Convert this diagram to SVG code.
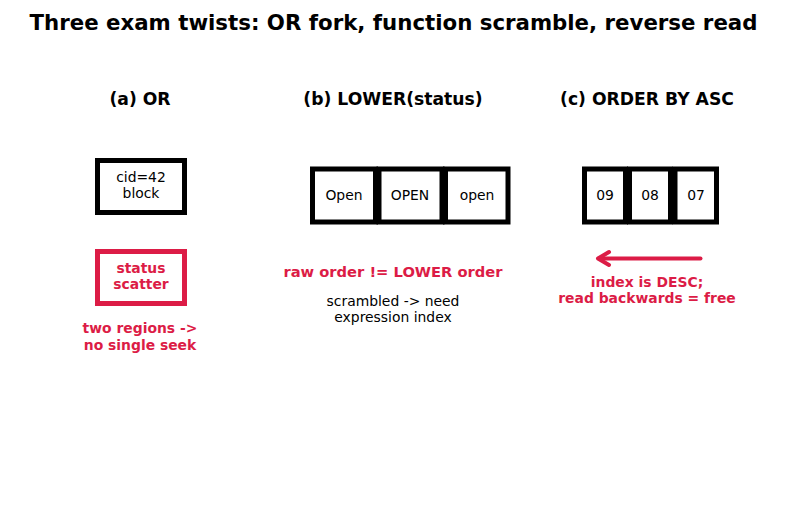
<svg xmlns="http://www.w3.org/2000/svg" width="787" height="508" viewBox="0 0 787 508">
<style>
text{font-family:"DejaVu Sans","Liberation Sans",sans-serif;text-anchor:middle}
.t{font-size:21.3px;font-weight:bold}
.h{font-size:17.2px;font-weight:bold}
.n{font-size:13.9px;fill:#000}
.r{font-size:13.9px;font-weight:bold;fill:#dc1c46}
.box{fill:#fff;stroke:#000;stroke-width:5}
.rbox{fill:#fff;stroke:#dc1c46;stroke-width:5}
</style>
<rect width="787" height="508" fill="#fff"/>
<text class="t" x="393.5" y="30">Three exam twists: OR fork, function scramble, reverse read</text>
<text class="h" x="140" y="105">(a) OR</text>
<text class="h" x="393" y="105">(b) LOWER(status)</text>
<text class="h" x="647" y="105">(c) ORDER BY ASC</text>
<g id="block"><rect class="box" x="97.5" y="160.5" width="87" height="52"/><text class="n" x="141" y="182">cid=42</text><text class="n" x="141" y="198">block</text></g>
<g id="scatter"><rect class="rbox" x="97.5" y="251.5" width="87" height="52"/><text class="r" x="141" y="273">status</text><text class="r" x="141" y="289">scatter</text></g>
<text class="r" x="140" y="333">two regions -&gt;</text>
<text class="r" x="140" y="350">no single seek</text>
<g id="b1"><rect class="box" x="312.5" y="169" width="63" height="53"/><text class="n" x="344" y="200">Open</text></g>
<g id="b2"><rect class="box" x="379" y="169" width="63" height="53"/><text class="n" x="410" y="200">OPEN</text></g>
<g id="b3"><rect class="box" x="445.5" y="169" width="62.5" height="53"/><text class="n" x="477" y="200">open</text></g>
<text class="r" x="393" y="276.5" style="font-size:14.7px">raw order != LOWER order</text>
<text class="n" x="393" y="306">scrambled -&gt; need</text>
<text class="n" x="393" y="321.5">expression index</text>
<g id="c1"><rect class="box" x="584.5" y="169" width="41" height="53"/><text class="n" x="605" y="200">09</text></g>
<g id="c2"><rect class="box" x="629.5" y="169" width="41" height="53"/><text class="n" x="650" y="200">08</text></g>
<g id="c3"><rect class="box" x="675" y="169" width="41.5" height="53"/><text class="n" x="696" y="200">07</text></g>
<g id="connectors" fill="none" stroke="#dc1c46" stroke-width="4" stroke-linecap="round" stroke-linejoin="round">
<line x1="700.5" y1="258.5" x2="599" y2="258.5"/>
<polyline points="609,252 598,258.5 609,265"/>
</g>
<text class="r" x="647" y="287">index is DESC;</text>
<text class="r" x="647" y="303">read backwards = free</text>
</svg>
